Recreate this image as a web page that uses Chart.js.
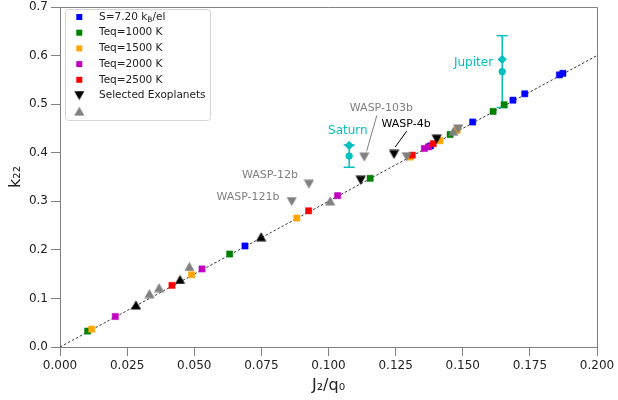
<!DOCTYPE html>
<html><head><meta charset="utf-8">
<script src="https://cdn.jsdelivr.net/npm/chart.js@4.4.0/dist/chart.umd.min.js"></script>
<style>html,body{margin:0;padding:0;background:#fff}canvas{display:block}</style>
</head><body>
<canvas id="c" width="618" height="400"></canvas>
<script>
// ---- data ----
const xTicks = [0, 0.025, 0.05, 0.075, 0.1, 0.125, 0.15, 0.175, 0.2];
const yTicks = [0, 0.1, 0.2, 0.3, 0.4, 0.5, 0.6, 0.7];
const fitX = [0, 0.2];
const fitY = [0, 0.6];
const s720X = [0.0689, 0.1380, 0.1537, 0.1687, 0.1731, 0.1860, 0.1873];
const s720Y = [0.208, 0.414, 0.4632, 0.5082, 0.5213, 0.5602, 0.5635];
const t1000X = [0.0103, 0.0632, 0.1155, 0.1453, 0.1613, 0.1654];
const t1000Y = [0.0328, 0.1914, 0.3473, 0.4374, 0.4851, 0.4988];
const t1500X = [0.0118, 0.0490, 0.0882, 0.1304, 0.1415, 0.1479];
const t1500Y = [0.0368, 0.1488, 0.2655, 0.391, 0.4247, 0.4462];
const t2000X = [0.0206, 0.0529, 0.1034, 0.1357, 0.1372];
const t2000Y = [0.0628, 0.1607, 0.3117, 0.4087, 0.4120];
const t2500X = [0.0417, 0.0926, 0.1312, 0.1390];
const t2500Y = [0.1269, 0.2804, 0.3950, 0.4186];
const blackUpX = [0.0283, 0.0447, 0.0749];
const blackUpY = [0.0866, 0.139, 0.227];
const blackDownX = [0.1120, 0.1244, 0.1403];
const blackDownY = [0.3432, 0.3964, 0.4278];
const greyUpX = [0.0333, 0.0369, 0.0482, 0.1006, 0.1465];
const greyUpY = [0.1099, 0.1222, 0.1658, 0.3009, 0.4442];
const greyDownX = [0.0863, 0.0927, 0.1133, 0.1291, 0.1483];
const greyDownY = [0.2994, 0.3351, 0.3909, 0.3916, 0.4489];
const planetNames = ['Saturn', 'Jupiter'];
const planetX = [0.1077, 0.1647];
const planetCircleY = [0.393, 0.567];
const planetDiamondY = [0.415, 0.592];
const planetErr = [0.023, 0.074];
const legendLabels = ['S=7.20 k|B|/el', 'Teq=1000 K', 'Teq=1500 K', 'Teq=2000 K', 'Teq=2500 K', 'Selected Exoplanets', ''];
const exoLabels = ['WASP-121b', 'WASP-12b', 'WASP-103b', 'WASP-4b'];

// ---- styles ----
const CYAN = '#00bfbf';
const GREY = '#808080';
const AXIS = '#808080';
const FONT = "'DejaVu Sans'";
const zip = (xs, ys) => xs.map((x, i) => ({x, y: ys[i]}));

function triCanvas(color, down) {
  const w = 11, h = 10;
  const c = document.createElement('canvas');
  c.width = w; c.height = h;
  const g = c.getContext('2d');
  g.fillStyle = color;
  g.beginPath();
  if (!down) { g.moveTo(w / 2, 0.4); g.lineTo(w - 0.4, h - 0.4); g.lineTo(0.4, h - 0.4); }
  else { g.moveTo(0.4, 0.4); g.lineTo(w - 0.4, 0.4); g.lineTo(w / 2, h - 0.4); }
  g.closePath(); g.fill();
  return c;
}
const triBlackUp = triCanvas('#000', false);
const triBlackDown = triCanvas('#000', true);
const triGreyUp = triCanvas(GREY, false);
const triGreyDown = triCanvas(GREY, true);

function sq(label, xs, ys, color, order) {
  return {label, data: zip(xs, ys), pointStyle: 'rect', pointRadius: 4.4, pointBackgroundColor: color,
    pointBorderColor: color, pointBorderWidth: 0.5, showLine: false, order};
}
function tri(label, xs, ys, img, order) {
  return {label, data: zip(xs, ys), pointStyle: img, pointRadius: 5, showLine: false, order};
}
function errBar(i) {
  return {label: planetNames[i] + ' err', type: 'line', showLine: true,
    data: [{x: planetX[i], y: planetCircleY[i] - planetErr[i]}, {x: planetX[i], y: planetCircleY[i] + planetErr[i]}],
    borderColor: CYAN, borderWidth: 1.5, pointStyle: 'line', pointRadius: 5.5,
    pointBorderColor: CYAN, pointBorderWidth: 1.5, order: 90};
}

const datasets = [
  {label: 'fit', type: 'line', data: zip(fitX, fitY), showLine: true, borderColor: '#222', borderWidth: 0.9,
    borderDash: [2.5, 2], pointRadius: 0, order: 100},
  errBar(0), errBar(1),
  sq('S=7.20', s720X, s720Y, '#0000ff', 80),
  sq('Teq=1000 K', t1000X, t1000Y, '#008000', 79),
  sq('Teq=1500 K', t1500X, t1500Y, '#ffa500', 78),
  sq('Teq=2000 K', t2000X, t2000Y, '#bf00bf', 77),
  sq('Teq=2500 K', t2500X, t2500Y, '#ff0000', 76),
  tri('grey up', greyUpX, greyUpY, triGreyUp, 70),
  tri('grey down', greyDownX, greyDownY, triGreyDown, 69),
  tri('black up', blackUpX, blackUpY, triBlackUp, 68),
  tri('Selected Exoplanets', blackDownX, blackDownY, triBlackDown, 67),
  {label: 'planet circles', data: zip(planetX, planetCircleY), pointStyle: 'circle', pointRadius: 3.6,
    pointBackgroundColor: CYAN, pointBorderColor: CYAN, pointBorderWidth: 0, showLine: false, order: 60},
  {label: 'planet diamonds', data: zip(planetX, planetDiamondY), pointStyle: 'rectRot', pointRadius: 4.6,
    pointBackgroundColor: CYAN, pointBorderColor: CYAN, pointBorderWidth: 0, showLine: false, order: 59}
];

// annotation placement (data coordinates)
const annotations = [
  {text: 'Jupiter', x: 0.1613, y: 0.585, align: 'right', color: CYAN, size: 12},
  {text: 'Saturn', x: 0.1072, y: 0.4442, align: 'center', color: CYAN, size: 12},
  {text: exoLabels[2], x: 0.1197, y: 0.4912, align: 'center', color: GREY, size: 11},
  {text: exoLabels[3], x: 0.1289, y: 0.4579, align: 'center', color: '#000', size: 11},
  {text: exoLabels[1], x: 0.0782, y: 0.3541, align: 'center', color: GREY, size: 11},
  {text: exoLabels[0], x: 0.0700, y: 0.3076, align: 'center', color: GREY, size: 11}
];
const connectors = [
  {x1: 0.1180, y1: 0.4769, x2: 0.1142, y2: 0.4032, color: GREY},
  {x1: 0.1291, y1: 0.4442, x2: 0.1248, y2: 0.4114, color: '#000'}
];

const annotPlugin = {
  id: 'annot',
  afterDatasetsDraw(chart) {
    const {ctx, scales: {x, y}} = chart;
    ctx.save();
    ctx.textBaseline = 'middle';
    for (const a of annotations) {
      ctx.font = a.size + 'px ' + FONT;
      ctx.fillStyle = a.color; ctx.textAlign = a.align;
      ctx.fillText(a.text, x.getPixelForValue(a.x), y.getPixelForValue(a.y));
    }
    ctx.lineWidth = 1;
    for (const c of connectors) {
      ctx.strokeStyle = c.color;
      ctx.beginPath();
      ctx.moveTo(x.getPixelForValue(c.x1), y.getPixelForValue(c.y1));
      ctx.lineTo(x.getPixelForValue(c.x2), y.getPixelForValue(c.y2));
      ctx.stroke();
    }
    // top and right spines
    const ca = chart.chartArea;
    ctx.strokeStyle = AXIS; ctx.lineWidth = 1;
    ctx.beginPath();
    ctx.moveTo(Math.round(ca.left), Math.round(ca.top) + 0.5);
    ctx.lineTo(Math.round(ca.right) + 0.5, Math.round(ca.top) + 0.5);
    ctx.lineTo(Math.round(ca.right) + 0.5, Math.round(ca.bottom));
    ctx.stroke();
    ctx.restore();
  }
};

const legendMarkers = [
  {type: 'sq', color: '#0000ff'}, {type: 'sq', color: '#008000'}, {type: 'sq', color: '#ffa500'},
  {type: 'sq', color: '#bf00bf'}, {type: 'sq', color: '#ff0000'},
  {type: 'img', img: triBlackDown}, {type: 'img', img: triGreyUp}
];
const legendPlugin = {
  id: 'customLegend',
  afterDraw(chart) {
    const ctx = chart.ctx;
    const bx = 65.5, by = 9.5, bw = 145, bh = 111, r = 3;
    ctx.save();
    ctx.beginPath();
    ctx.moveTo(bx + r, by); ctx.lineTo(bx + bw - r, by); ctx.arcTo(bx + bw, by, bx + bw, by + r, r);
    ctx.lineTo(bx + bw, by + bh - r); ctx.arcTo(bx + bw, by + bh, bx + bw - r, by + bh, r);
    ctx.lineTo(bx + r, by + bh); ctx.arcTo(bx, by + bh, bx, by + bh - r, r);
    ctx.lineTo(bx, by + r); ctx.arcTo(bx, by, bx + r, by, r); ctx.closePath();
    ctx.fillStyle = 'rgba(255,255,255,0.8)'; ctx.fill();
    ctx.strokeStyle = '#d6d6d6'; ctx.lineWidth = 1; ctx.stroke();
    const mx = 79.3, tx = 99, y0 = 17, dy = 15.7;
    ctx.textBaseline = 'middle'; ctx.textAlign = 'left'; ctx.fillStyle = '#222';
    legendLabels.forEach((lab, i) => {
      const yy = y0 + i * dy;
      const m = legendMarkers[i];
      if (m.type === 'sq') { ctx.fillStyle = m.color; ctx.fillRect(mx - 3, yy - 3, 6, 6); }
      else { ctx.drawImage(m.img, mx - m.img.width / 2, yy - m.img.height / 2); }
      ctx.fillStyle = '#222';
      const parts = lab.split('|');
      let xx = tx;
      parts.forEach((p, j) => {
        const sub = j % 2 === 1;
        ctx.font = (sub ? '7.5px ' : '10.5px ') + FONT;
        ctx.fillText(p, xx, yy + (sub ? 2.8 : 0));
        xx += ctx.measureText(p).width;
      });
    });
    ctx.restore();
  }
};

Chart.defaults.font.family = FONT;
new Chart(document.getElementById('c'), {
  type: 'scatter',
  data: {datasets},
  options: {
    responsive: false, animation: false, devicePixelRatio: 1,
    layout: {padding: {left: 0, top: 5, right: 21, bottom: 0}},
    plugins: {legend: {display: false}, tooltip: {enabled: false}},
    scales: {
      x: {
        type: 'linear', min: 0, max: 0.2,
        afterBuildTicks: s => { s.ticks = xTicks.map(v => ({value: v})); },
        afterFit: s => { s.height = 53; },
        ticks: {callback: v => v.toFixed(3), font: {size: 12}, color: '#222', padding: 3, maxRotation: 0, autoSkip: false},
        grid: {drawOnChartArea: false, drawTicks: true, tickLength: 9, color: AXIS, lineWidth: 1},
        border: {display: true, color: AXIS, width: 1},
        title: {display: true, text: 'J₂/q₀', font: {size: 16}, color: '#222', padding: {top: 0, bottom: 5}}
      },
      y: {
        type: 'linear', min: 0, max: 0.7,
        afterBuildTicks: s => { s.ticks = yTicks.map(v => ({value: v})); },
        afterFit: s => { s.width = 60; s.paddingTop = 0; s.paddingBottom = 0; },
        ticks: {callback: v => v.toFixed(1), font: {size: 12}, color: '#222', padding: 3, autoSkip: false},
        grid: {drawOnChartArea: false, drawTicks: true, tickLength: 9, color: AXIS, lineWidth: 1},
        border: {display: true, color: AXIS, width: 1},
        title: {display: true, text: 'k₂₂', font: {size: 16}, color: '#222', padding: {top: 6, bottom: 0}}
      }
    }
  },
  plugins: [annotPlugin, legendPlugin]
});
</script>
</body></html>
